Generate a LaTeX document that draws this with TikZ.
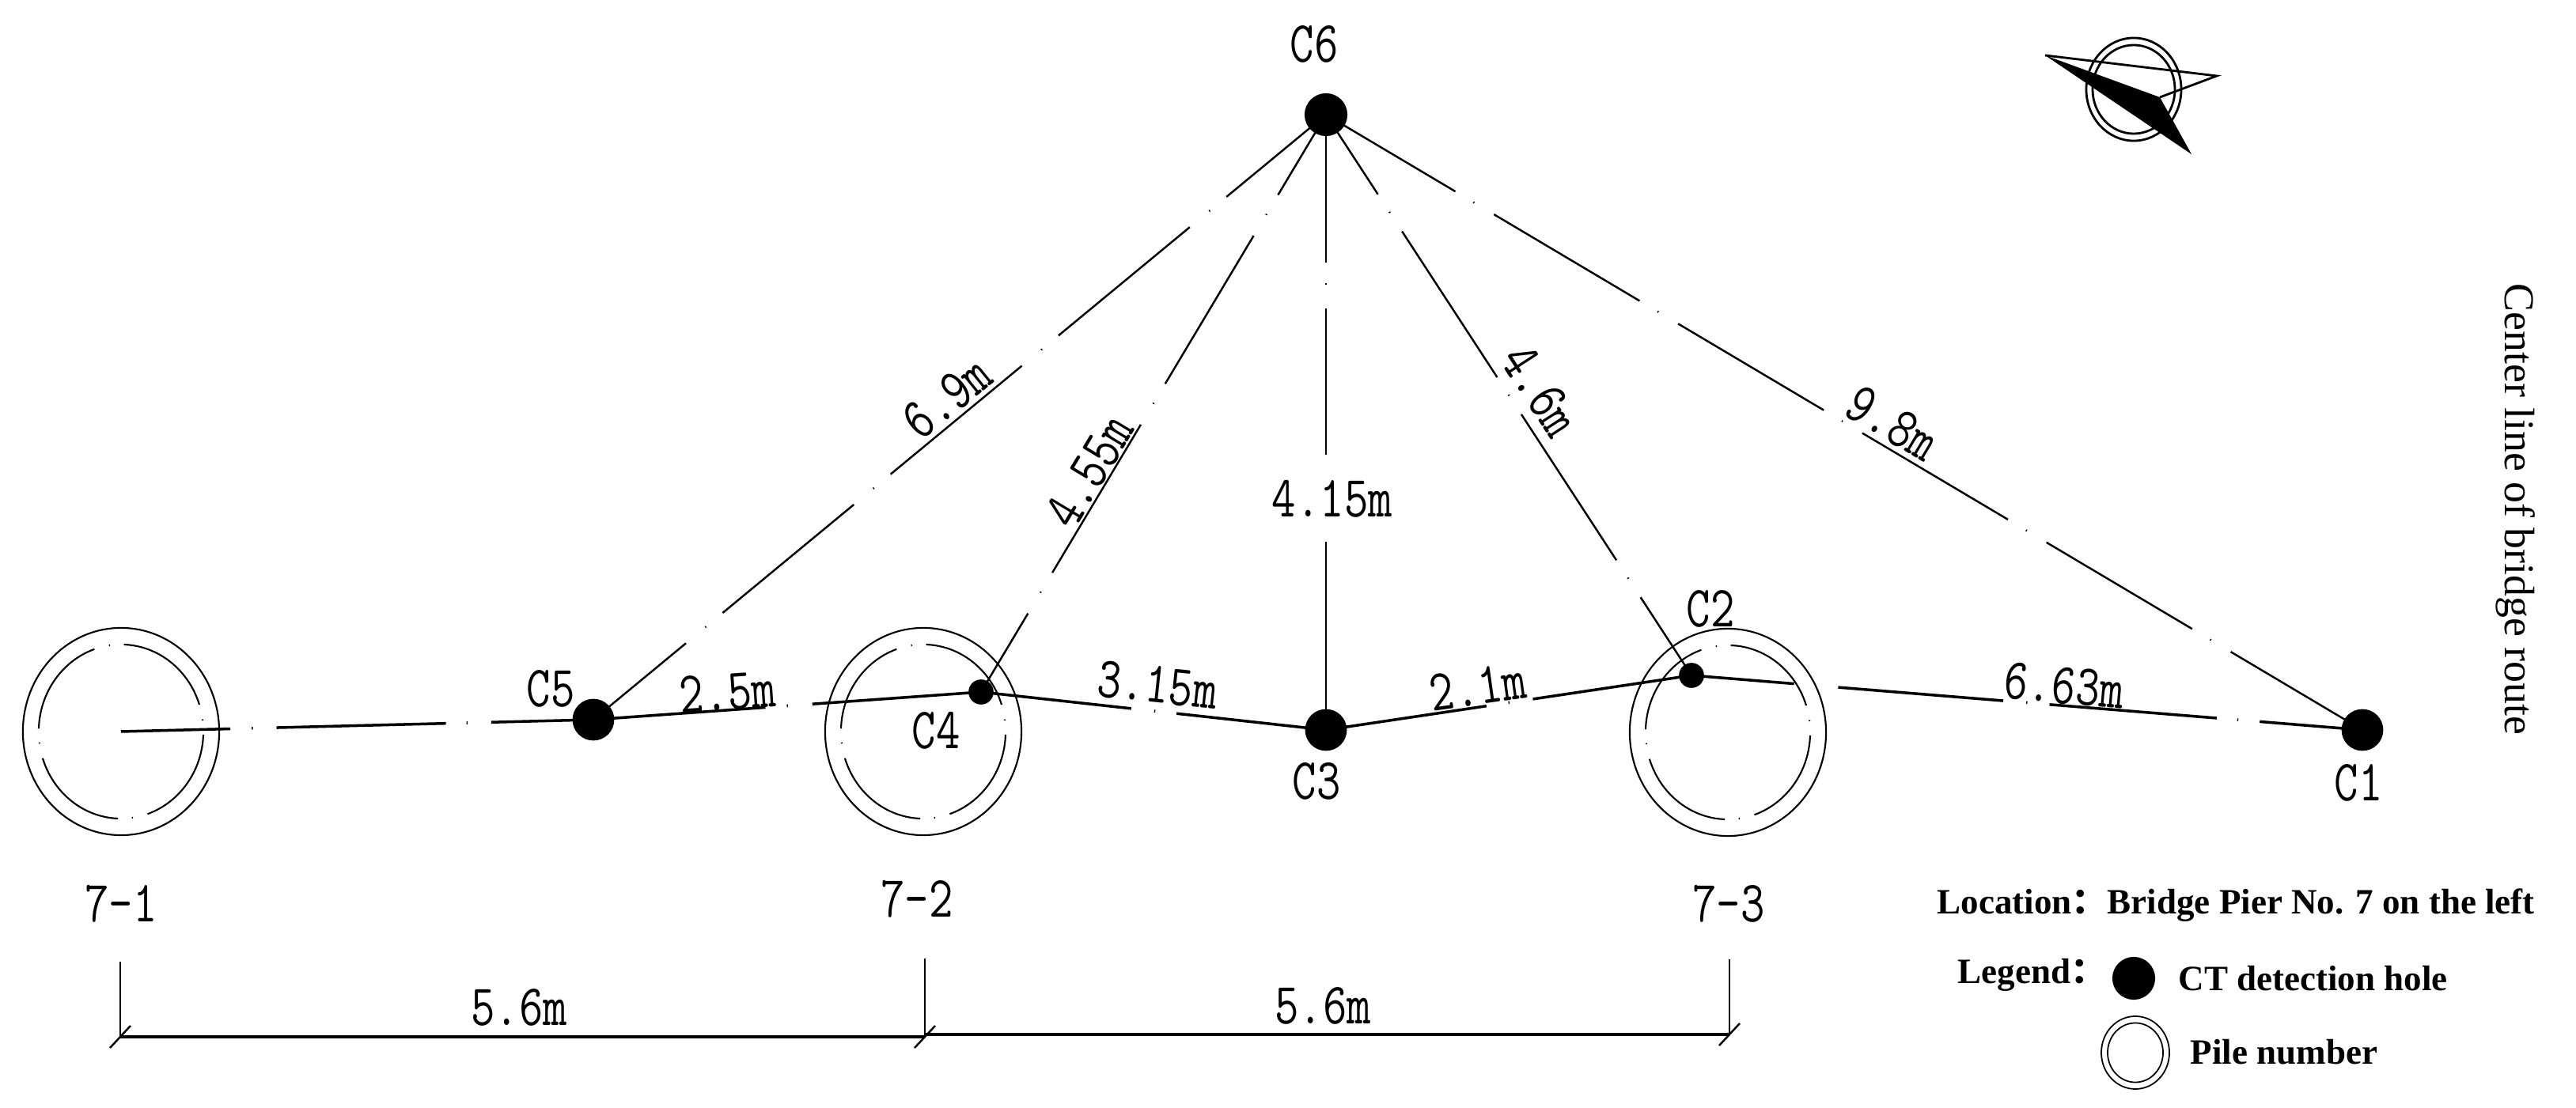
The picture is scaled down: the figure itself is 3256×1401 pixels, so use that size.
\documentclass[tikz,border=0pt]{standalone}
\usepackage{fontspec}
\setmainfont{Liberation Serif}
\newfontfamily\cjk{Noto Sans CJK SC}
\newcommand{\cad}[1]{\scalebox{0.8}[1]{\ttfamily\fontsize{21}{21}\selectfont #1}}
\tikzset{
  x=0.01cm,y=-0.01cm,
  hole/.style={circle,fill=black,inner sep=0pt,minimum size=#1},
  hole/.default=15pt,
  thinline/.style={line width=0.7pt},
  chainline/.style={line width=1pt},
  lbl/.style={inner sep=0pt,black},
  legend/.style={inner sep=0pt,anchor=west,font=\fontsize{12.8}{14}\selectfont\bfseries},
  ring/.style={draw,line width=0.6pt,fill=none},
  innerring/.style={ring,dash pattern=on 37pt off 5pt on .4pt off 5.4pt,dash phase=38pt},
  dimline/.style={line width=0.7pt},
  dimbar/.style={line width=1.1pt},
}
\begin{document}
\begin{tikzpicture}
\useasboundingbox (0,0) rectangle (3256,1401);
% piles
\foreach \n/\px/\py in {a/153/925,b/1167/925,c/2184/926}{
  \coordinate (p\n) at (\px,\py);
  \draw[ring] (p\n) ellipse[x radius=1.24cm,y radius=1.31cm];
  \draw[innerring] (p\n) ellipse[x radius=1.04cm,y radius=1.10cm];
}
% holes
\node[hole=15.4pt] (C6) at (1676,145) {};
\node[hole] (C5) at (750,910) {};
\node[hole=9pt] (C4) at (1240,875) {};
\node[hole] (C3) at (1676,923) {};
\node[hole=9pt] (C2) at (2138,854) {};
\node[hole] (C1) at (2986,923) {};
% connectors
\draw[chainline,dash pattern=on 39.3pt off 7.7pt on .4pt off 8.5pt on 60.9pt off 7.4pt on .4pt off 8.5pt on 57pt off 0pt] (pa) -- (C5.center);
\draw[chainline,dash pattern=on 62pt off 7.7pt on .4pt off 8.8pt on 85pt off 0pt] (C5.center) -- (C4.center);
\draw[chainline,dash pattern=on 54.3pt off 8.3pt on .4pt off 7.7pt on 71pt off 0pt] (C4.center) -- (C3.center);
\draw[chainline,dash pattern=on 58.3pt off 8pt on .4pt off 8.5pt on 71pt off 0pt] (C3.center) -- (C2.center);
\draw[chainline,dash pattern=on 37pt off 15.9pt on 59.5pt off 8.3pt on .4pt off 8pt on 60.3pt off 7.4pt on .4pt off 7.7pt on 57pt off 0pt] (C2.center) -- (C1.center);
\draw[thinline,dash pattern=on 61.2pt off 7.7pt on .4pt off 9pt,dash phase=14.8pt] (C6.center) -- (C5.center);
\draw[thinline,dash pattern=on 62pt off 8pt on .4pt off 8.7pt,dash phase=28.4pt] (C6.center) -- (C4.center);
\draw[thinline,dash pattern=on 53.2pt off 7.4pt on .4pt off 8.8pt on 52.4pt off 31.3pt on 68pt off 0pt] (C6.center) -- (C3.center);
\draw[thinline,dash pattern=on 62.6pt off 7.5pt on .4pt off 8pt,dash phase=28.4pt] (C6.center) -- (C2.center);
\draw[thinline,dash pattern=on 60.9pt off 7.5pt on .4pt off 8.2pt,dash phase=6.8pt] (C6.center) -- (C1.center);
% hole labels
\node[lbl] (tC6) at (1661,56) {\cad{C6}};
\node[lbl] (tC5) at (696,871) {\cad{C5}};
\node[lbl] (tC4) at (1183,924) {\cad{C4}};
\node[lbl] (tC3) at (1664,988) {\cad{C3}};
\node[lbl] (tC2) at (2162,770) {\cad{C2}};
\node[lbl] (tC1) at (2981,990) {\cad{C1}};
% pile labels
\node[lbl] (t71) at (153,1143) {\cad{7-1}};
\node[lbl] (t72) at (1159,1137) {\cad{7-2}};
\node[lbl] (t73) at (2185,1143) {\cad{7-3}};
% distances
\node[lbl,rotate=39] (d1) at (1197,503) {\cad{6.9m}};
\node[lbl,rotate=59] (d2) at (1377,596) {\cad{4.55m}};
\node[lbl] (d3) at (1684,631) {\cad{4.15m}};
\node[lbl,rotate=-57] (d4) at (1947,494) {\cad{4.6m}};
\node[lbl,rotate=-31] (d5) at (2392,535) {\cad{9.8m}};
\node[lbl,rotate=-5] (d6) at (2609,867) {\cad{6.63m}};
\node[lbl,rotate=8] (d7) at (1868,868) {\cad{2.1m}};
\node[lbl,rotate=-6] (d8) at (1463,866) {\cad{3.15m}};
\node[lbl,rotate=4] (d9) at (920,875) {\cad{2.5m}};
% dimension line
\coordinate (a0) at (152,1216);
\coordinate (a1) at (152,1311);
\coordinate (b0) at (1169,1212);
\coordinate (b1) at (1169,1311);
\coordinate (b2) at (1169,1308);
\coordinate (c0) at (2186,1213);
\coordinate (c1) at (2186,1308);
\draw[dimline] (a0) -- (a1);
\draw[dimline] (b0) -- (b1);
\draw[dimline] (c0) -- (c1);
\draw[dimbar] (a1) -- (b1);
\draw[dimbar] (b2) -- (c1);
\foreach \m in {a1,b1,c1}{\draw[dimline] ([shift={(-13,14)}]\m) -- ([shift={(13,-14)}]\m);}
\node[lbl] (w1) at (656,1274) {\cad{5.6m}};
\node[lbl] (w2) at (1672,1272) {\cad{5.6m}};
% centre line
\node[lbl,rotate=-90] (cl) at (3180,644) {\fontsize{15.3}{17}\selectfont Center line of bridge route};
% legend
\node[legend] (loc) at (2448,1145) {Location{\cjk：}Bridge Pier No. 7 on the left};
\node[legend] (leg) at (2474,1233) {Legend{\cjk：}};
\node[hole=15.4pt] (lh) at (2697,1237) {};
\node[legend] (lt1) at (2753,1237) {CT detection hole};
\coordinate (lp) at (2699,1331);
\draw[ring,line width=0.5pt] (lp) ellipse[x radius=.43cm,y radius=.46cm];
\draw[ring,line width=0.5pt] (lp) ellipse[x radius=.35cm,y radius=.375cm];
\node[legend] (lt2) at (2768,1330) {Pile number};
% north arrow
\coordinate (nc) at (2697,113);
\coordinate (ntip) at (2585,70);
\coordinate (ne) at (2802,96);
\coordinate (ns) at (2770,195);
\coordinate (ni) at (2730,123);
\draw[line width=0.8pt] (nc) ellipse[x radius=.60cm,y radius=.65cm];
\draw[line width=0.8pt] (nc) ellipse[x radius=.52cm,y radius=.56cm];
\draw[line width=0.8pt] (ntip) -- (ne) -- (ni);
\fill[black] (ntip) -- (ni) -- (ns) -- cycle;
\end{tikzpicture}
\end{document}
